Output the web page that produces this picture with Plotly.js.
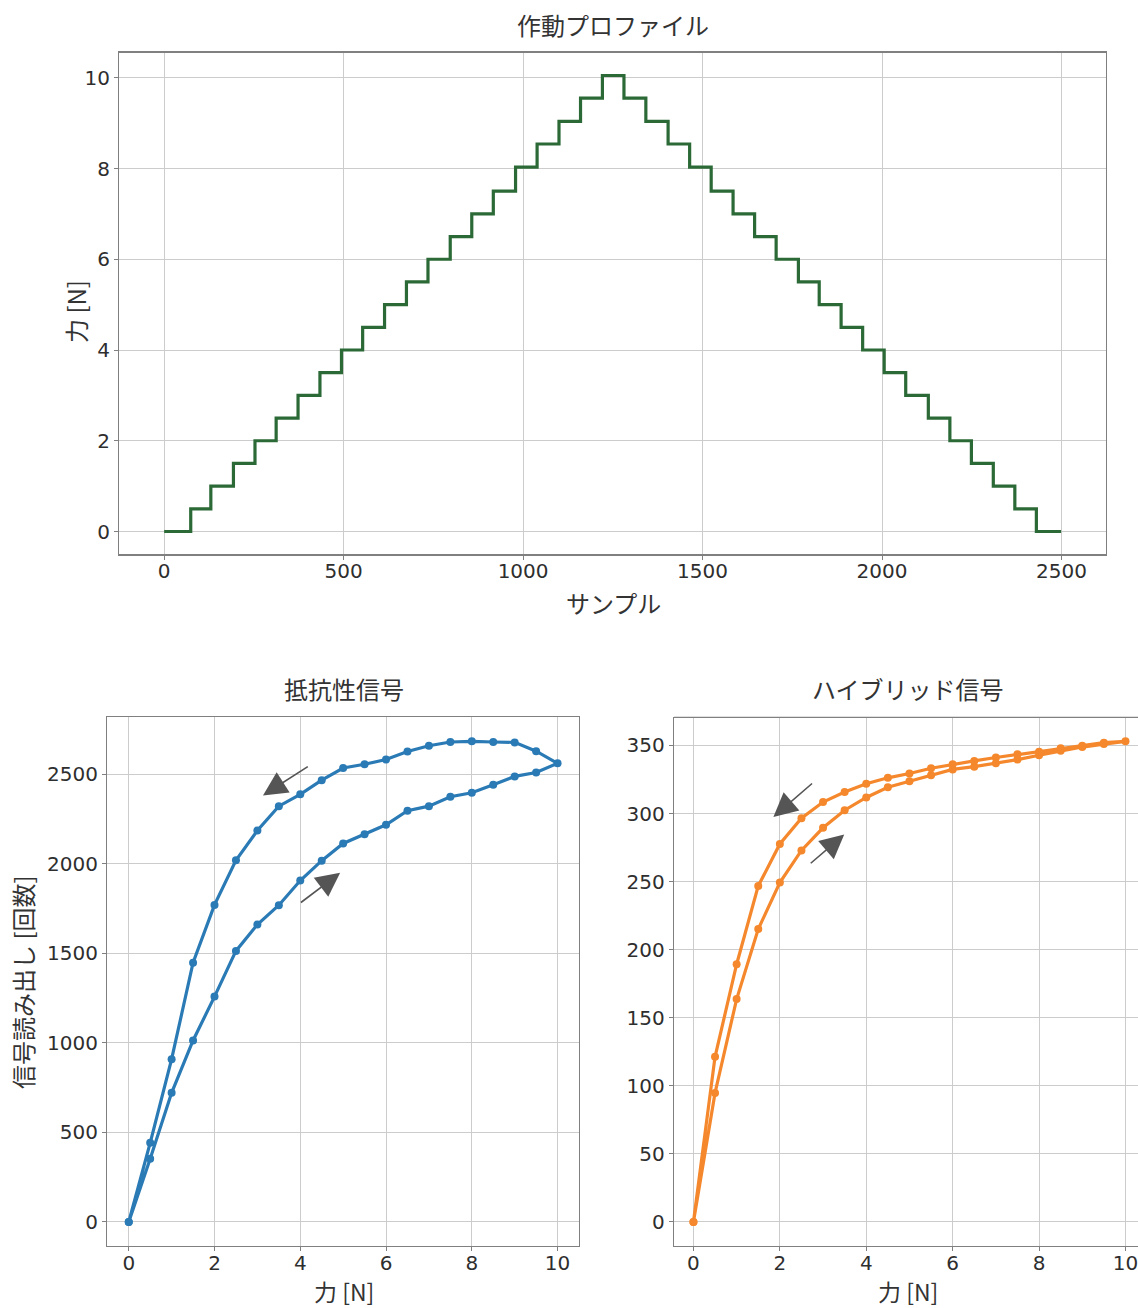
<!DOCTYPE html>
<html>
<head>
<meta charset="utf-8">
<script src="https://cdn.plot.ly/plotly-3.0.1.min.js"></script>
<style>
  html, body { margin: 0; padding: 0; background: #ffffff; }
  #chart { width: 1138px; height: 1308px; }
</style>
</head>
<body>
<div id="chart"></div>
<script>
// ---- Actuation profile (step function) ----
const sampleStart = [0, 74, 130, 193, 253, 312, 373, 434, 494, 553, 614, 675, 735, 797, 857, 917, 979, 1039, 1100, 1160, 1221,
                     1281, 1342, 1404, 1464, 1524, 1585, 1645, 1705, 1767, 1825, 1886, 1946, 2006, 2066, 2129, 2189, 2249, 2310, 2370, 2430, 2499];
const forceLevel = [0, 0.5, 1, 1.5, 2, 2.5, 3, 3.5, 4, 4.5, 5, 5.5, 6, 6.5, 7, 7.5, 8.03, 8.54, 9.04, 9.55, 10.05,
                    9.55, 9.04, 8.54, 8.03, 7.5, 7, 6.5, 6, 5.5, 5, 4.5, 4, 3.5, 3, 2.5, 2, 1.5, 1, 0.5, 0, 0];

// ---- Force values for hysteresis curves ----
const forceUp   = [0, 0.5, 1, 1.5, 2, 2.5, 3, 3.5, 4, 4.5, 5, 5.5, 6, 6.5, 7, 7.5, 8, 8.5, 9, 9.5, 10];
const forceDown = [10, 9.5, 9, 8.5, 8, 7.5, 7, 6.5, 6, 5.5, 5, 4.5, 4, 3.5, 3, 2.5, 2, 1.5, 1, 0.5, 0];

// ---- Resistive signal (counts) ----
const resistiveUp   = [0, 353, 721, 1013, 1258, 1513, 1660, 1768, 1906, 2017, 2113, 2164, 2217, 2296, 2321, 2374, 2396, 2440, 2487, 2509, 2560];
const resistiveDown = [2560, 2628, 2677, 2679, 2683, 2679, 2658, 2626, 2581, 2555, 2534, 2466, 2387, 2321, 2185, 2019, 1770, 1447, 909, 442, 0];

// ---- Hybrid signal (counts) ----
const hybridUp   = [0, 94.8, 163.7, 215.1, 249.3, 272.9, 289.5, 302.4, 311.8, 319.3, 323.7, 328, 332.4, 334.4, 336.9, 339.6, 342.8, 346, 348.8, 351, 353];
const hybridDown = [353, 352, 349.8, 348, 345.3, 343.6, 341.1, 338.6, 336.1, 333.2, 329.4, 326.2, 321.8, 315.8, 308.4, 296.5, 277.6, 246.8, 189.3, 121.3, 0];

// ---- Tick values ----
const sampleTicks = [0, 500, 1000, 1500, 2000, 2500];
const forceTicks  = [0, 2, 4, 6, 8, 10];
const resistiveTicks = [0, 500, 1000, 1500, 2000, 2500];
const hybridTicks = [0, 50, 100, 150, 200, 250, 300, 350];

// ---- Text ----
const titleProfile = '作動プロファイル';
const titleResistive = '抵抗性信号';
const titleHybrid = 'ハイブリッド信号';
const xLabelSample = 'サンプル';
const yLabelForce = '力 [N]';
const xLabelForce = '力 [N]';
const yLabelCounts = '信号読み出し [回数]';

const W = 1138, H = 1308;
const cjk = '"Noto Sans CJK JP", "Noto Sans", sans-serif';
const tickFont = { family: '"DejaVu Sans", sans-serif', size: 20, color: '#2e2e2e' };
const labelFont = { family: cjk, size: 24, color: '#333333' };
const gridColor = '#cccccc';
const frameColor = '#808080';

function px(x) { return x / W; }
function py(y) { return 1 - y / H; }

function axisBase(extra) {
  return Object.assign({
    showgrid: true, gridcolor: gridColor, gridwidth: 1,
    zeroline: false,
    showline: true, linecolor: frameColor, linewidth: 1.3, mirror: true,
    ticks: 'outside', ticklen: 4, tickwidth: 1, tickcolor: frameColor,
    tickfont: tickFont, automargin: false, fixedrange: true,
    ticklabeloverflow: 'allow'
  }, extra);
}

const traces = [
  {
    x: sampleStart, y: forceLevel, type: 'scatter', mode: 'lines',
    line: { shape: 'hv', color: '#2b6a36', width: 3.2 },
    xaxis: 'x', yaxis: 'y', hoverinfo: 'skip'
  },
  {
    x: forceUp.concat(forceDown.slice(1)), y: resistiveUp.concat(resistiveDown.slice(1)),
    type: 'scatter', mode: 'lines+markers',
    line: { color: '#2a7ab5', width: 3.2 }, marker: { color: '#2a7ab5', size: 8 },
    xaxis: 'x2', yaxis: 'y2', hoverinfo: 'skip'
  },
  {
    x: forceUp.concat(forceDown.slice(1)), y: hybridUp.concat(hybridDown.slice(1)),
    type: 'scatter', mode: 'lines+markers',
    line: { color: '#f5882c', width: 3.2 }, marker: { color: '#f5882c', size: 8 },
    xaxis: 'x3', yaxis: 'y3', hoverinfo: 'skip'
  }
];

function arrow(xr, yr, tail, head) {
  return {
    xref: xr, yref: yr, axref: xr, ayref: yr,
    x: head[0], y: head[1], ax: tail[0], ay: tail[1],
    text: '', showarrow: true, arrowhead: 2, arrowsize: 3, arrowwidth: 1.6,
    arrowcolor: '#555555', standoff: 0, startstandoff: 0
  };
}

function label(text, x, y, angle, size) {
  return {
    xref: 'paper', yref: 'paper', x: px(x), y: py(y), text: text,
    showarrow: false, xanchor: 'center', yanchor: 'middle',
    textangle: angle || 0, font: Object.assign({}, labelFont, size ? { size: size } : {})
  };
}

const layout = {
  width: W, height: H,
  margin: { l: 0, r: 0, t: 0, b: 0 },
  paper_bgcolor: '#ffffff', plot_bgcolor: '#ffffff',
  showlegend: false,
  xaxis: axisBase({ domain: [px(119.3), px(1106)], range: [-125, 2624], tickvals: sampleTicks, anchor: 'y', ticklabelstandoff: -6 }),
  yaxis: axisBase({ domain: [py(554.3), py(52.7)], range: [-0.5025, 10.5525], tickvals: forceTicks, anchor: 'x' }),
  xaxis2: axisBase({ domain: [px(107.3), px(579)], range: [-0.5, 10.5], tickvals: forceTicks, anchor: 'y2', ticklabelstandoff: -5 }),
  yaxis2: axisBase({ domain: [py(1246), py(717.3)], range: [-134, 2817], tickvals: resistiveTicks, anchor: 'x2' }),
  xaxis3: axisBase({ domain: [px(674), 1], range: [-0.45, 10.29], tickvals: forceTicks, anchor: 'y3', mirror: false, ticklabelstandoff: -5 }),
  yaxis3: axisBase({ domain: [py(1246), py(717.3)], range: [-17.65, 370.65], tickvals: hybridTicks, anchor: 'x3', mirror: false }),
  shapes: [
    { type: 'line', xref: 'x3 domain', yref: 'y3 domain', x0: 0, x1: 1, y0: 1, y1: 1, line: { color: frameColor, width: 1.3 } }
  ],
  annotations: [
    label(titleProfile, 613, 24),
    label(xLabelSample, 613, 602),
    label(yLabelForce, 75, 312, -90),
    label(titleResistive, 344, 688),
    label(titleHybrid, 908, 688),
    label(xLabelForce, 344, 1291, 0, 23),
    label(xLabelForce, 908, 1291, 0, 23),
    label(yLabelCounts, 22, 982, -90),
    arrow('x2', 'y2', [4.21, 2547], [3.13, 2381]),
    arrow('x2', 'y2', [3.98, 1777], [4.93, 1949]),
    arrow('x3', 'y3', [2.78, 323], [1.85, 297.4]),
    arrow('x3', 'y3', [2.68, 262.5], [3.49, 284.5])
  ]
};

Plotly.newPlot('chart', traces, layout, { displayModeBar: false, staticPlot: true });
</script>
</body>
</html>
